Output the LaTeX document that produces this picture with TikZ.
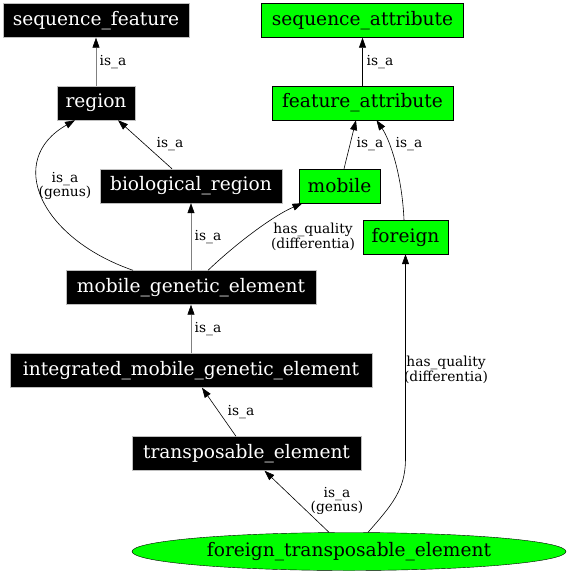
\documentclass[tikz,border=0pt]{standalone}
\usepackage{fontspec}
\setmainfont{DejaVu Serif}
\usetikzlibrary{arrows.meta,shapes.geometric}
\definecolor{termgreen}{RGB}{0,255,0}

\begin{document}
\begin{tikzpicture}[x=1pt,y=-1pt,
  blackbox/.style={fill=black,draw=gray!50,text=white,inner sep=0pt,minimum height=34pt,font=\fontsize{18.6}{20}\selectfont},
  greenbox/.style={fill=termgreen,draw=black,inner sep=0pt,minimum height=34pt,font=\fontsize{18.6}{20}\selectfont},
  greenell/.style={ellipse,fill=termgreen,draw=black,inner sep=0pt,minimum width=434pt,minimum height=38pt,font=\fontsize{18.6}{20}\selectfont},
  isa/.style={-{Triangle[length=10pt,width=7pt,color=black]},black,line width=0.6pt},
  grayisa/.style={isa,draw=gray},
  lbl/.style={font=\fontsize{13.8}{14.5}\selectfont,align=center,inner sep=0pt}]
\useasboundingbox (0,0) rectangle (569,576);
% black terms
\node[blackbox,minimum width=186pt] (seqfeat) at (96,20.5) {sequence\_feature};
\node[blackbox,minimum width=78pt] (region) at (96,103) {region};
\node[blackbox,minimum width=182pt] (bioreg) at (191,186) {biological\_region};
\node[blackbox,minimum width=250pt] (mge) at (191,287.5) {mobile\_genetic\_element};
\node[blackbox,minimum width=362pt] (imge) at (191,370.5) {integrated\_mobile\_genetic\_element};
\node[blackbox,minimum width=229pt] (trans) at (246.5,453.5) {transposable\_element};
% green terms
\node[greenbox,minimum width=202pt] (seqattr) at (362.5,20.5) {sequence\_attribute};
\node[greenbox,minimum width=181pt] (featattr) at (362.5,103) {feature\_attribute};
\node[greenbox,minimum width=81pt] (mobile) at (339.5,186) {mobile};
\node[greenbox,minimum width=85pt] (foreign) at (405.5,237) {foreign};
\node[greenell] (fte) at (349,551.5) {foreign\_transposable\_element};

% is_a edges
\draw[grayisa] (region) -- (seqfeat);
\draw[isa] ([xshift=-19pt]bioreg.north) -- ([xshift=22pt]region.south);
\draw[isa] ([xshift=-58pt]mge.north) .. controls (40,238) and (5,160) .. ([xshift=-21pt]region.south);
\draw[grayisa] (mge) -- (bioreg);
\draw[grayisa] (imge) -- (mge);
\draw[isa] ([xshift=-10.5pt]trans.north) -- ([xshift=11pt]imge.south);
\draw[isa] ([xshift=-20pt]fte.north) -- ([xshift=18pt]trans.south);
\draw[isa] (featattr) -- (seqattr);
\draw[isa] ([xshift=4.5pt]mobile.north) -- ([xshift=-6.5pt]featattr.south);
\draw[isa] ([xshift=-1.5pt]foreign.north) .. controls (402,175) and (390,140) .. ([xshift=14pt]featattr.south);
% has_quality edges
\draw[isa] ([xshift=17pt]mge.north) .. controls (240,240) and (275,215) .. ([xshift=-37pt]mobile.south);
\draw[isa] ([xshift=19pt]fte.north) .. controls (392,505) and (405,490) .. (foreign.south |- 0,460) -- (foreign.south);

% edge labels
\node[lbl] (l1) at (113,62) {is\_a};
\node[lbl] (l2) at (170,144) {is\_a};
\node[lbl] (l3) at (65,186) {is\_a\\(genus)};
\node[lbl] (l4) at (208,237) {is\_a};
\node[lbl] (l5) at (313,237) {has\_quality\\(differentia)};
\node[lbl] (l6) at (370,144) {is\_a};
\node[lbl] (l7) at (409,144) {is\_a};
\node[lbl] (l8) at (380,62) {is\_a};
\node[lbl] (l9) at (208,329) {is\_a};
\node[lbl] (l10) at (241,412) {is\_a};
\node[lbl] (l11) at (337,501) {is\_a\\(genus)};
\node[lbl] (l12) at (446,370) {has\_quality\\(differentia)};
\end{tikzpicture}
\end{document}
